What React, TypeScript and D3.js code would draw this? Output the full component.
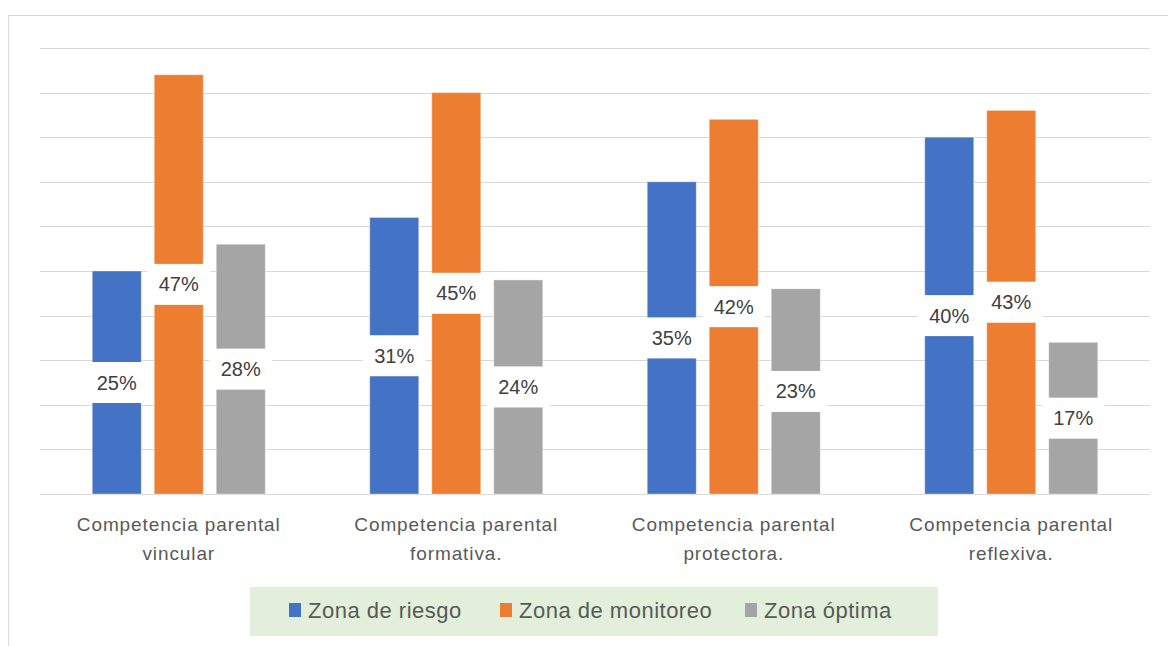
import React from "react";
import * as d3 from "d3";

const categories = [
  "Competencia parental vincular",
  "Competencia parental formativa.",
  "Competencia parental protectora.",
  "Competencia parental reflexiva.",
];
const series = ["Zona de riesgo", "Zona de monitoreo", "Zona óptima"];
const riesgo = [25, 31, 35, 40];
const monitoreo = [47, 45, 42, 43];
const optima = [28, 24, 23, 17];
const yTicks = [0, 5, 10, 15, 20, 25, 30, 35, 40, 45, 50];
const colors = ["#4472C4", "#ED7D31", "#A5A5A5"];

const W = 1168;
const H = 646;
const FONT = "'Liberation Sans', Arial, sans-serif";

function splitLabel(s: string): string[] {
  const i = s.indexOf("parental") + "parental".length;
  return [s.slice(0, i), s.slice(i + 1)];
}

export default function App() {
  const values = [riesgo, monitoreo, optima];
  const x0 = d3.scaleBand<string>().domain(categories).range([40, 1150]).padding(0);
  const x1 = d3
    .scaleBand<string>()
    .domain(series)
    .range([-86.5, 86.5])
    .paddingInner(0.21)
    .paddingOuter(0);
  const y = d3.scaleLinear().domain([0, 50]).range([494, 48]);

  const boxW = 63;
  const boxH = 41;

  return (
    <svg
      width={W}
      height={H}
      style={{ position: "absolute", left: 0, top: 0, background: "#fff" }}
      fontFamily={FONT}
    >
      <rect x={8.5} y={15.5} width={W} height={H} fill="#fff" stroke="#d9d9d9" strokeWidth={1} />
      {yTicks.map((t) => (
        <line key={t} x1={40} x2={1150} y1={Math.round(y(t)) + 0.5} y2={Math.round(y(t)) + 0.5} stroke="#d9d9d9" strokeWidth={1} />
      ))}
      {categories.map((c, ci) => {
        const cx = (x0(c) as number) + x0.bandwidth() / 2;
        return (
          <g key={c}>
            {series.map((s, si) => {
              const v = values[si][ci];
              const bx = cx + (x1(s) as number);
              return (
                <rect
                  key={s}
                  x={bx}
                  y={y(v)}
                  width={x1.bandwidth()}
                  height={y(0) - y(v)}
                  fill={colors[si]}
                  stroke="#ffffff"
                  strokeOpacity={0.35}
                  strokeWidth={1}
                />
              );
            })}
            {series.map((s, si) => {
              const v = values[si][ci];
              const mx = cx + (x1(s) as number) + x1.bandwidth() / 2;
              const my = (y(v) + y(0)) / 2;
              return (
                <g key={s + "l"}>
                  <rect x={mx - boxW / 2} y={my - boxH / 2} width={boxW} height={boxH} fill="#fff" />
                  <text
                    x={mx}
                    y={my}
                    textAnchor="middle"
                    dominantBaseline="central"
                    fontSize={20}
                    fill="#404040"
                  >
                    {v}%
                  </text>
                </g>
              );
            })}
            {splitLabel(c).map((line, li) => (
              <text
                key={li}
                x={cx}
                y={524 + li * 29}
                textAnchor="middle"
                dominantBaseline="central"
                fontSize={19}
                letterSpacing={0.9}
                fill="#595959"
              >
                {line}
              </text>
            ))}
          </g>
        );
      })}
      <rect x={250} y={587} width={688} height={49} fill="#E2EFDA" />
      {series.map((s, si) => {
        const lx = [289, 500, 745][si];
        return (
          <g key={s}>
            <rect x={lx} y={603} width={12} height={14} fill={colors[si]} />
            <text x={lx + 19} y={610} dominantBaseline="central" fontSize={22} letterSpacing={0.5} fill="#595959">
              {s}
            </text>
          </g>
        );
      })}
    </svg>
  );
}
